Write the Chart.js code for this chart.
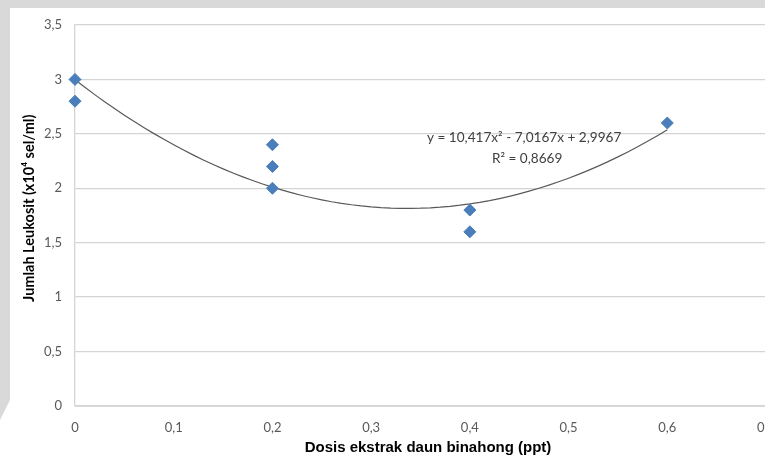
<!DOCTYPE html>
<html>
<head>
<meta charset="utf-8">
<script src="https://cdn.jsdelivr.net/npm/chart.js@4/dist/chart.umd.min.js"></script>
<style>
  html, body { margin: 0; padding: 0; background: #fff; overflow: hidden; }
  #wrap { position: absolute; left: 0; top: 0; width: 765px; height: 463px; overflow: hidden; }
</style>
</head>
<body>
<div id="wrap"><canvas id="myChart" width="773" height="463"></canvas></div>
<script>
// observed points (dose ppt, leukocytes x10^4 sel/ml)
const doseX = [0, 0, 0.2, 0.2, 0.2, 0.4, 0.4, 0.6];
const leukoY = [3.0, 2.8, 2.4, 2.2, 2.0, 1.8, 1.6, 2.6];

// polynomial trendline shown on the chart: y = a x^2 + b x + c
const trendCoef = [10.417, -7.0167, 2.9967];
const trendRange = [0, 0.6];
const eqLines = ['y = 10,417x\u00B2 - 7,0167x + 2,9967', 'R\u00B2 = 0,8669'];

const points = doseX.map((x, i) => ({ x: x, y: leukoY[i] }));
const trend = [];
for (let i = 0; i <= 60; i++) {
  const x = trendRange[0] + (trendRange[1] - trendRange[0]) * i / 60;
  trend.push({ x: x, y: trendCoef[0] * x * x + trendCoef[1] * x + trendCoef[2] });
}

const comma = v => String(Math.round(v * 10) / 10).replace('.', ',');

// page background + equation text
const decor = {
  id: 'decor',
  beforeDraw(chart) {
    const c = chart.ctx;
    c.save();
    c.fillStyle = '#d9d9d9';
    c.fillRect(0, 0, chart.width, 8);
    c.fillRect(0, 0, 10, 385);
    c.beginPath();
    c.moveTo(0, 385); c.lineTo(10, 385); c.lineTo(10, 400); c.lineTo(0, 420);
    c.closePath(); c.fill();
    c.restore();
  },
  afterDatasetsDraw(chart) {
    const c = chart.ctx;
    const xs = chart.scales.x, ys = chart.scales.y;
    c.save();
    c.fillStyle = '#404040';
    c.font = '13.6px Lato';
    c.textAlign = 'center';
    c.textBaseline = 'middle';
    c.fillText(eqLines[0], xs.getPixelForValue(0.455), ys.getPixelForValue(2.47));
    c.fillText(eqLines[1], xs.getPixelForValue(0.458), ys.getPixelForValue(2.27));
    c.restore();
  }
};

new Chart(document.getElementById('myChart'), {
  type: 'scatter',
  data: {
    datasets: [
      {
        label: 'Leukosit',
        data: points,
        pointStyle: 'rectRot',
        pointRadius: 6,
        pointHoverRadius: 6,
        backgroundColor: '#4a7ebb',
        borderColor: '#4a7ebb',
        borderWidth: 1,
        clip: false,
        order: 1
      },
      {
        label: 'Poly. (Leukosit)',
        type: 'line',
        data: trend,
        borderColor: '#595959',
        borderWidth: 1.2,
        pointRadius: 0,
        tension: 0,
        fill: false,
        clip: false,
        order: 2
      }
    ]
  },
  options: {
    responsive: false,
    animation: false,
    events: [],
    layout: { padding: { top: 25, right: 2, left: 0, bottom: 0 } },
    plugins: { legend: { display: false }, tooltip: { enabled: false } },
    scales: {
      x: {
        type: 'linear',
        min: 0, max: 0.7,
        ticks: { stepSize: 0.1, padding: 14, color: '#595959', font: { family: 'Lato', size: 13 }, callback: v => comma(v) },
        grid: { display: false, drawTicks: false },
        border: { display: true, color: '#d9d9d9', width: 1 },
        title: { display: true, text: '\u2002\u2002Dosis ekstrak daun binahong (ppt)', color: '#000', font: { family: 'Liberation Sans', size: 15, weight: 'bold' }, padding: { top: 2, bottom: 6 } },
        afterFit: s => { s.height = 57; s.paddingLeft = 0; s.paddingRight = 0; }
      },
      y: {
        min: 0, max: 3.5,
        ticks: { stepSize: 0.5, padding: 13, color: '#595959', font: { family: 'Lato', size: 13 }, callback: v => comma(v) },
        grid: { color: '#d4d4d4', lineWidth: 1.3, drawTicks: false },
        border: { display: true, color: '#d4d4d4', width: 1.3 },
        title: { display: true, text: '\u2002\u2002Jumlah Leukosit (x10\u2074 sel/ml)', color: '#000', font: { family: 'Lato', size: 14.5, weight: 'bold' }, padding: { top: 21, bottom: 4 } },
        afterFit: s => { s.width = 75; s.paddingTop = 0; s.paddingBottom = 0; }
      }
    }
  },
  plugins: [decor]
});
</script>
</body>
</html>
